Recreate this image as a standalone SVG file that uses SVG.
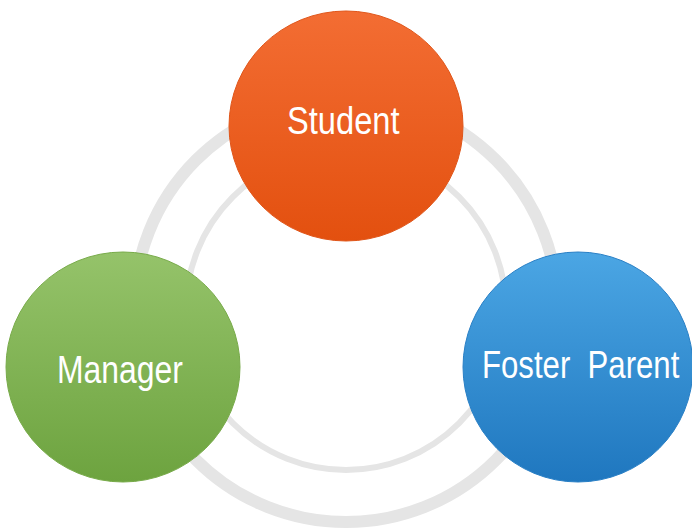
<svg xmlns="http://www.w3.org/2000/svg" width="692" height="530" viewBox="0 0 692 530">
<defs>
<linearGradient id="gOrange" x1="0" y1="0" x2="0" y2="1"><stop offset="0" stop-color="#f36d33"/><stop offset="1" stop-color="#e3500f"/></linearGradient>
<linearGradient id="gGreen" x1="0" y1="0" x2="0" y2="1"><stop offset="0" stop-color="#95c36a"/><stop offset="1" stop-color="#6da33f"/></linearGradient>
<linearGradient id="gBlue" x1="0" y1="0" x2="0" y2="1"><stop offset="0" stop-color="#4ba6e4"/><stop offset="1" stop-color="#1f77bf"/></linearGradient>
<style>
.ring{fill:none;stroke:#e5e5e5}
.lbl{font-family:"Liberation Sans",Arial,sans-serif;font-size:38px;fill:#ffffff;white-space:pre}
</style>
</defs>
<rect width="692" height="530" fill="#ffffff"/>
<g id="connectors">
<circle class="ring" cx="346" cy="310" r="212" stroke-width="12"/>
<circle class="ring" cx="346" cy="310" r="160" stroke-width="6"/>
</g>
<g id="student">
<ellipse cx="346" cy="126" rx="117" ry="115" fill="url(#gOrange)" stroke="#e0561a" stroke-width="1"/>
<text class="lbl" transform="translate(287,134) scale(0.86,1)" x="0" y="0">Student</text>
</g>
<g id="manager">
<ellipse cx="123" cy="367" rx="117" ry="115" fill="url(#gGreen)" stroke="#78ab4a" stroke-width="1"/>
<text class="lbl" transform="translate(57,383) scale(0.84,1)" x="0" y="0">Manager</text>
</g>
<g id="foster-parent">
<ellipse cx="578" cy="367" rx="115" ry="115" fill="url(#gBlue)" stroke="#2a80c6" stroke-width="1"/>
<text class="lbl" transform="translate(482,378) scale(0.82,1)" x="0" y="0">Foster  Parent</text>
</g>
</svg>
